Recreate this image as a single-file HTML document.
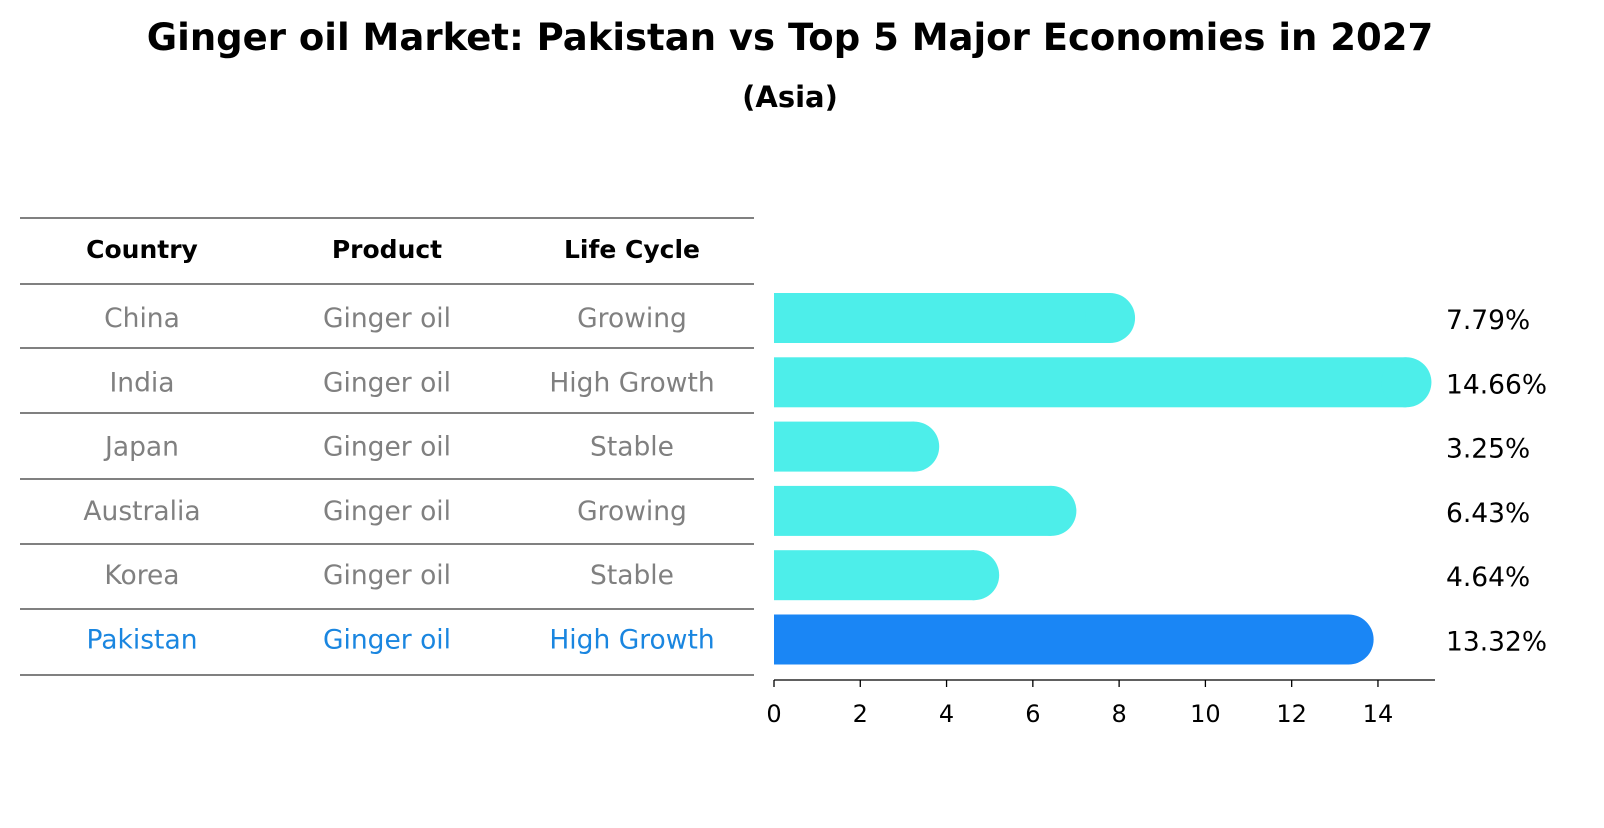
<!DOCTYPE html>
<html><head><meta charset="utf-8"><style>
body{margin:0;background:#fff;width:1604px;height:823px;overflow:hidden;font-family:"Liberation Sans","DejaVu Sans",sans-serif}
svg text{font-family:"DejaVu Sans","Liberation Sans",sans-serif}
</style></head><body>
<svg id="chart" width="1604" height="823">
<text x="790" y="50" text-anchor="middle" font-size="37" font-weight="bold">Ginger oil Market: Pakistan vs Top 5 Major Economies in 2027</text>
<text x="790" y="107" text-anchor="middle" font-size="29" font-weight="bold">(Asia)</text>
<g id="table"></g>
<g id="bars"></g>
<g id="axis"></g>
</svg>
<script>
const countries=["China","India","Japan","Australia","Korea","Pakistan"];
const products=["Ginger oil","Ginger oil","Ginger oil","Ginger oil","Ginger oil","Ginger oil"];
const lifeCycles=["Growing","High Growth","Stable","Growing","Stable","High Growth"];
const values=[7.79,14.66,3.25,6.43,4.64,13.32];
const ticks=[0,2,4,6,8,10,12,14];
const NS="http://www.w3.org/2000/svg";
function mk(t,a,p){const e=document.createElementNS(NS,t);for(const k in a)e.setAttribute(k,a[k]);p.appendChild(e);return e;}
const x=v=>774+v*43.14;
const rowY=i=>318+i*64.3;
const table=document.getElementById('table'),bars=document.getElementById('bars'),axis=document.getElementById('axis');
const lineYs=[218,284,348,413,479,544,609,675];
lineYs.forEach(y=>{const l=mk('line',{x1:20,x2:754,y1:y,y2:y,stroke:'#000','stroke-width':1},table);

});
const cols=[142,387,632];
["Country","Product","Life Cycle"].forEach((h,j)=>{const t=mk('text',{x:cols[j],y:258,'text-anchor':'middle','font-size':25,'font-weight':'bold'},table);t.textContent=h;

});
countries.forEach((c,i)=>{
 const col=i===countries.length-1?'#1a86e0':'#808080';
 [c,products[i],lifeCycles[i]].forEach((v,j)=>{const t=mk('text',{x:cols[j],y:rowY(i)+9,'text-anchor':'middle','font-size':26.5,fill:col},table);t.textContent=v;
 
 });
 const fill=i===countries.length-1?'#1a86f5':'#4deeea';
 const g=mk('g',{},bars);
 
 
 mk('rect',{x:774,y:rowY(i)-25,width:x(values[i])-774,height:50,fill:fill},g);
 mk('circle',{cx:x(values[i]),cy:rowY(i),r:25,fill:fill},g);
 const t=mk('text',{x:1446,y:rowY(i)+11,'font-size':26.5},bars);t.textContent=values[i].toFixed(2)+'%';
 
 
});
mk('line',{x1:774,x2:1435,y1:680,y2:680,stroke:'#000','stroke-width':1.3},axis);
ticks.forEach(v=>{mk('line',{x1:x(v),x2:x(v),y1:680,y2:687,stroke:'#000','stroke-width':1.3},axis);
 const t=mk('text',{x:x(v),y:722,'text-anchor':'middle','font-size':24},axis);t.textContent=v;
 
 });
</script>
</body></html>
